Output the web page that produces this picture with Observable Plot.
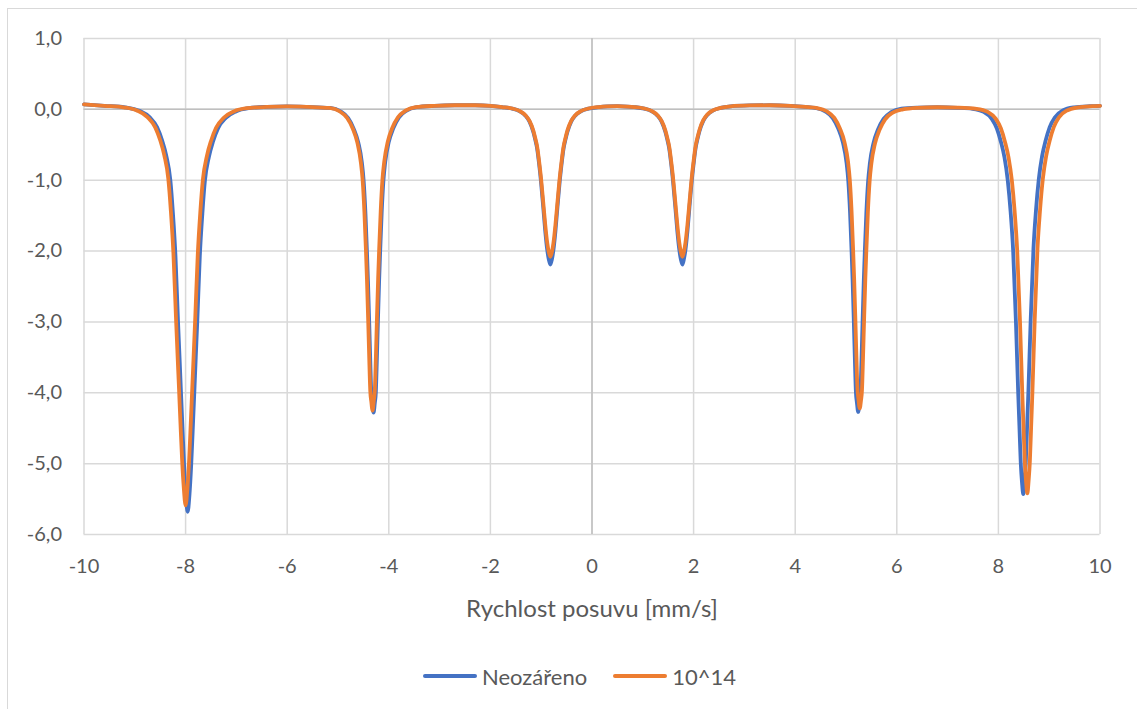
<!DOCTYPE html>
<html>
<head>
<meta charset="utf-8">
<script src="https://cdn.jsdelivr.net/npm/d3@7"></script>
<script src="https://cdn.jsdelivr.net/npm/@observablehq/plot@0.6"></script>
<style>
  html, body { margin: 0; padding: 0; background: #fff; overflow: hidden; }
  body { width: 1137px; height: 709px; position: relative; font-family: Lato, "Open Sans", sans-serif; }
  #frame { position: absolute; left: 7px; top: 8px; width: 1150px; height: 720px; border: 1.5px solid #d9d9d9; box-sizing: border-box; }
  #chart { position: absolute; left: 0; top: 0; }
  #legend { position: absolute; left: 423px; top: 662px; height: 28px; display: flex; align-items: center; color: #595959; font-size: 22px; }
  .item { display: flex; align-items: center; }
  .swatch { width: 54px; height: 4px; border-radius: 2px; margin-right: 5px; }
</style>
</head>
<body>
<div id="frame"></div>
<div id="chart"></div>
<div id="legend"></div>
<script>
// Mössbauer spectra: relative transmission vs. source velocity
const seriesNames = ["Neozářeno", "10^14"];
const seriesColors = ["#4472c4", "#ed7d31"];
const xTicks = [-10, -8, -6, -4, -2, 0, 2, 4, 6, 8, 10];
const yTicks = [1, 0, -1, -2, -3, -4, -5, -6];
const xLabel = "Rychlost posuvu [mm/s]";

// [velocity mm/s, value] – unirradiated sample
const neozareno = [
  [-10, 0.07], [-9.6, 0.05],
  [-9.16, 0.026], [-8.91, -0.02], [-8.71, -0.11], [-8.56, -0.255], [-8.46, -0.445], [-8.38, -0.655],
  [-8.30, -1.0], [-8.25, -1.46], [-8.20, -2.06], [-8.15, -2.98], [-8.12, -3.49], [-8.09, -4.01],
  [-8.06, -4.52], [-8.03, -5.02], [-7.995, -5.45], [-7.96, -5.68],
  [-7.925, -5.45], [-7.89, -5.02], [-7.86, -4.53], [-7.83, -4.02], [-7.80, -3.50], [-7.77, -2.99],
  [-7.72, -2.07], [-7.67, -1.47], [-7.62, -1.01], [-7.54, -0.666], [-7.46, -0.454], [-7.36, -0.265],
  [-7.21, -0.122], [-7.01, -0.03], [-6.76, 0.016],
  [-6.4, 0.035], [-6.0, 0.042], [-5.6, 0.035],
  [-5.15, 0.02], [-4.95, -0.028], [-4.80, -0.123], [-4.69, -0.275], [-4.60, -0.47], [-4.53, -0.75],
  [-4.495, -1.01], [-4.46, -1.465], [-4.43, -2.01], [-4.41, -2.42], [-4.385, -3.02], [-4.365, -3.54],
  [-4.345, -4.00], [-4.325, -4.15], [-4.30, -4.28],
  [-4.275, -4.14], [-4.255, -3.99], [-4.235, -3.53], [-4.215, -3.01], [-4.19, -2.41], [-4.17, -2.00],
  [-4.14, -1.455], [-4.105, -1.0], [-4.07, -0.74], [-4.00, -0.46], [-3.91, -0.265], [-3.80, -0.113],
  [-3.65, -0.018], [-3.45, 0.03],
  [-3.1, 0.05], [-2.7, 0.058], [-2.3, 0.058], [-2.0, 0.05],
  [-1.77, 0.032], [-1.57, 0.01], [-1.42, -0.028], [-1.31, -0.089], [-1.23, -0.174], [-1.155, -0.32],
  [-1.12, -0.42], [-1.08, -0.555], [-1.04, -0.78], [-1.005, -1.014], [-0.96, -1.38], [-0.92, -1.72],
  [-0.88, -1.99], [-0.85, -2.12], [-0.82, -2.19],
  [-0.79, -2.12], [-0.76, -1.99], [-0.72, -1.72], [-0.68, -1.38], [-0.635, -1.014], [-0.60, -0.78],
  [-0.56, -0.555], [-0.52, -0.42], [-0.485, -0.32], [-0.41, -0.174], [-0.33, -0.089], [-0.22, -0.028],
  [-0.07, 0.01], [0.13, 0.032],
  [0.3, 0.042], [0.5, 0.045], [0.7, 0.04],
  [0.83, 0.032], [1.03, 0.01], [1.18, -0.028], [1.29, -0.089], [1.37, -0.174], [1.445, -0.32],
  [1.48, -0.42], [1.52, -0.555], [1.56, -0.78], [1.595, -1.014], [1.64, -1.38], [1.68, -1.72],
  [1.72, -1.99], [1.75, -2.12], [1.78, -2.19],
  [1.81, -2.11], [1.84, -1.98], [1.88, -1.71], [1.92, -1.37], [1.965, -1.0], [2.0, -0.77],
  [2.04, -0.545], [2.08, -0.41], [2.115, -0.31], [2.19, -0.164], [2.27, -0.079], [2.38, -0.018],
  [2.53, 0.02], [2.73, 0.042],
  [3.1, 0.055], [3.5, 0.058], [3.9, 0.05], [4.2, 0.035],
  [4.39, 0.02], [4.59, -0.028], [4.74, -0.123], [4.85, -0.274], [4.94, -0.47], [5.01, -0.75],
  [5.045, -1.01], [5.08, -1.46], [5.11, -2.0], [5.13, -2.41], [5.155, -3.02], [5.175, -3.54],
  [5.195, -3.99], [5.215, -4.14], [5.24, -4.27],
  [5.265, -4.14], [5.285, -3.99], [5.305, -3.54], [5.325, -3.03], [5.35, -2.42], [5.37, -2.01],
  [5.40, -1.47], [5.435, -1.02], [5.47, -0.76], [5.54, -0.48], [5.63, -0.285], [5.74, -0.135],
  [5.89, -0.04], [6.09, 0.01],
  [6.4, 0.025], [6.8, 0.03], [7.2, 0.022],
  [7.49, 0.008], [7.71, -0.036], [7.87, -0.134], [7.97, -0.27], [8.05, -0.46], [8.12, -0.68],
  [8.185, -1.007], [8.24, -1.444], [8.29, -1.99], [8.345, -3.0], [8.39, -4.01], [8.415, -4.50],
  [8.44, -4.99], [8.465, -5.27], [8.49, -5.43],
  [8.515, -5.25], [8.54, -4.97], [8.565, -4.48], [8.59, -3.99], [8.635, -2.98], [8.69, -1.97],
  [8.74, -1.424], [8.795, -0.987], [8.86, -0.66], [8.93, -0.44], [9.01, -0.25], [9.11, -0.114],
  [9.27, -0.016], [9.49, 0.028],
  [9.8, 0.045], [10, 0.05]
];

// [velocity mm/s, value] – sample irradiated with 10^14
const ozareno = [
  [-10, 0.07], [-9.6, 0.05],
  [-9.20, 0.026], [-8.95, -0.019], [-8.75, -0.109], [-8.60, -0.25], [-8.50, -0.436], [-8.42, -0.645],
  [-8.34, -0.983], [-8.29, -1.435], [-8.24, -2.03], [-8.19, -2.93], [-8.16, -3.44], [-8.13, -3.94],
  [-8.10, -4.45], [-8.07, -4.93], [-8.035, -5.35], [-8.00, -5.59],
  [-7.965, -5.36], [-7.93, -4.94], [-7.90, -4.46], [-7.87, -3.95], [-7.84, -3.45], [-7.81, -2.94],
  [-7.76, -2.04], [-7.71, -1.445], [-7.66, -0.993], [-7.58, -0.655], [-7.50, -0.446], [-7.40, -0.26],
  [-7.25, -0.119], [-7.05, -0.029], [-6.80, 0.016],
  [-6.4, 0.035], [-6.0, 0.042], [-5.6, 0.035],
  [-5.17, 0.02], [-4.97, -0.027], [-4.82, -0.122], [-4.71, -0.27], [-4.62, -0.466], [-4.55, -0.75],
  [-4.515, -1.0], [-4.48, -1.455], [-4.45, -1.99], [-4.43, -2.40], [-4.405, -3.0], [-4.385, -3.52],
  [-4.365, -3.97], [-4.345, -4.12], [-4.32, -4.25],
  [-4.295, -4.11], [-4.275, -3.96], [-4.255, -3.51], [-4.235, -2.99], [-4.21, -2.39], [-4.19, -1.98],
  [-4.16, -1.445], [-4.125, -0.99], [-4.09, -0.74], [-4.02, -0.456], [-3.93, -0.26], [-3.82, -0.112],
  [-3.67, -0.017], [-3.47, 0.03],
  [-3.1, 0.05], [-2.7, 0.058], [-2.3, 0.058], [-2.0, 0.05],
  [-1.77, 0.033], [-1.57, 0.012], [-1.42, -0.025], [-1.31, -0.082], [-1.23, -0.163], [-1.155, -0.30],
  [-1.12, -0.397], [-1.08, -0.525], [-1.04, -0.74], [-1.005, -0.96], [-0.96, -1.31], [-0.92, -1.63],
  [-0.88, -1.89], [-0.85, -2.016], [-0.82, -2.08],
  [-0.79, -2.016], [-0.76, -1.89], [-0.72, -1.63], [-0.68, -1.31], [-0.635, -0.96], [-0.60, -0.74],
  [-0.56, -0.525], [-0.52, -0.397], [-0.485, -0.30], [-0.41, -0.163], [-0.33, -0.082], [-0.22, -0.025],
  [-0.07, 0.012], [0.13, 0.033],
  [0.3, 0.042], [0.5, 0.045], [0.7, 0.04],
  [0.83, 0.033], [1.03, 0.012], [1.18, -0.025], [1.29, -0.082], [1.37, -0.163], [1.445, -0.30],
  [1.48, -0.397], [1.52, -0.525], [1.56, -0.74], [1.595, -0.96], [1.64, -1.31], [1.68, -1.63],
  [1.72, -1.89], [1.75, -2.016], [1.78, -2.08],
  [1.81, -2.006], [1.84, -1.88], [1.88, -1.62], [1.92, -1.30], [1.965, -0.95], [2.0, -0.73],
  [2.04, -0.515], [2.08, -0.387], [2.115, -0.29], [2.19, -0.153], [2.27, -0.072], [2.38, -0.015],
  [2.53, 0.022], [2.73, 0.043],
  [3.1, 0.055], [3.5, 0.058], [3.9, 0.05], [4.2, 0.035],
  [4.42, 0.02], [4.62, -0.027], [4.77, -0.121], [4.88, -0.27], [4.97, -0.462], [5.04, -0.74],
  [5.075, -0.996], [5.11, -1.444], [5.14, -1.98], [5.16, -2.38], [5.185, -2.98], [5.205, -3.49],
  [5.225, -3.94], [5.245, -4.09], [5.27, -4.22],
  [5.295, -4.11], [5.315, -3.96], [5.335, -3.51], [5.355, -3.0], [5.38, -2.40], [5.40, -2.0],
  [5.43, -1.464], [5.465, -1.016], [5.50, -0.76], [5.57, -0.482], [5.66, -0.29], [5.77, -0.141],
  [5.92, -0.047], [6.12, 0.0],
  [6.4, 0.022], [6.8, 0.03], [7.2, 0.025],
  [7.57, 0.008], [7.79, -0.036], [7.95, -0.134], [8.05, -0.27], [8.13, -0.46], [8.20, -0.68],
  [8.265, -1.005], [8.32, -1.44], [8.37, -1.99], [8.425, -2.99], [8.47, -4.0], [8.495, -4.49],
  [8.52, -4.98], [8.545, -5.26], [8.57, -5.42],
  [8.595, -5.24], [8.62, -4.96], [8.645, -4.47], [8.67, -3.98], [8.715, -2.97], [8.77, -1.96],
  [8.82, -1.42], [8.875, -0.98], [8.94, -0.66], [9.01, -0.44], [9.09, -0.25], [9.19, -0.114],
  [9.35, -0.016], [9.57, 0.028],
  [9.85, 0.045], [10, 0.05]
];

const fmtY = d => d.toFixed(1).replace(".", ",");
const fmtX = d => String(d);
const gridColor = "#d9d9d9";
const axisColor = "#bfbfbf";
const textColor = "#595959";

const chart = Plot.plot({
  width: 1137,
  height: 650,
  marginLeft: 83.5,
  marginRight: 37.5,
  marginTop: 38,
  marginBottom: 116,
  style: { fontFamily: "Lato, 'Open Sans', sans-serif", color: textColor, background: "transparent", overflow: "visible" },
  x: { domain: [-10, 10] },
  y: { domain: [-6, 1] },
  marks: [
    Plot.gridX(xTicks, { stroke: gridColor, strokeOpacity: 1, strokeWidth: 1.5 }),
    Plot.gridY(yTicks, { stroke: gridColor, strokeOpacity: 1, strokeWidth: 1.5 }),
    Plot.ruleX([0], { stroke: axisColor, strokeWidth: 1.5 }),
    Plot.ruleY([0], { stroke: axisColor, strokeWidth: 1.5 }),
    Plot.line(neozareno, { x: d => d[0], y: d => d[1], stroke: seriesColors[0], strokeWidth: 3.8, curve: "monotone-x", strokeLinejoin: "round", strokeLinecap: "round" }),
    Plot.line(ozareno, { x: d => d[0], y: d => d[1], stroke: seriesColors[1], strokeWidth: 3.8, curve: "monotone-x", strokeLinejoin: "round", strokeLinecap: "round" }),
    Plot.axisX(xTicks, { tickSize: 0, tickPadding: 24, tickFormat: fmtX, fontSize: 20, fill: textColor, label: null }),
    Plot.axisY(yTicks, { tickSize: 0, tickPadding: 22, tickFormat: fmtY, fontSize: 20, fill: textColor, label: null }),
    Plot.text([xLabel], { frameAnchor: "bottom", dy: 75, text: d => d, fontSize: 24, fill: textColor, lineAnchor: "middle" })
  ]
});
document.getElementById("chart").appendChild(chart);

const legend = document.getElementById("legend");
seriesNames.forEach((name, i) => {
  const item = document.createElement("div");
  item.className = "item";
  if (i > 0) item.style.marginLeft = "26px";
  const sw = document.createElement("div");
  sw.className = "swatch";
  sw.style.background = seriesColors[i];
  const label = document.createElement("span");
  label.textContent = name;
  item.appendChild(sw);
  item.appendChild(label);
  legend.appendChild(item);
});
</script>
</body>
</html>
